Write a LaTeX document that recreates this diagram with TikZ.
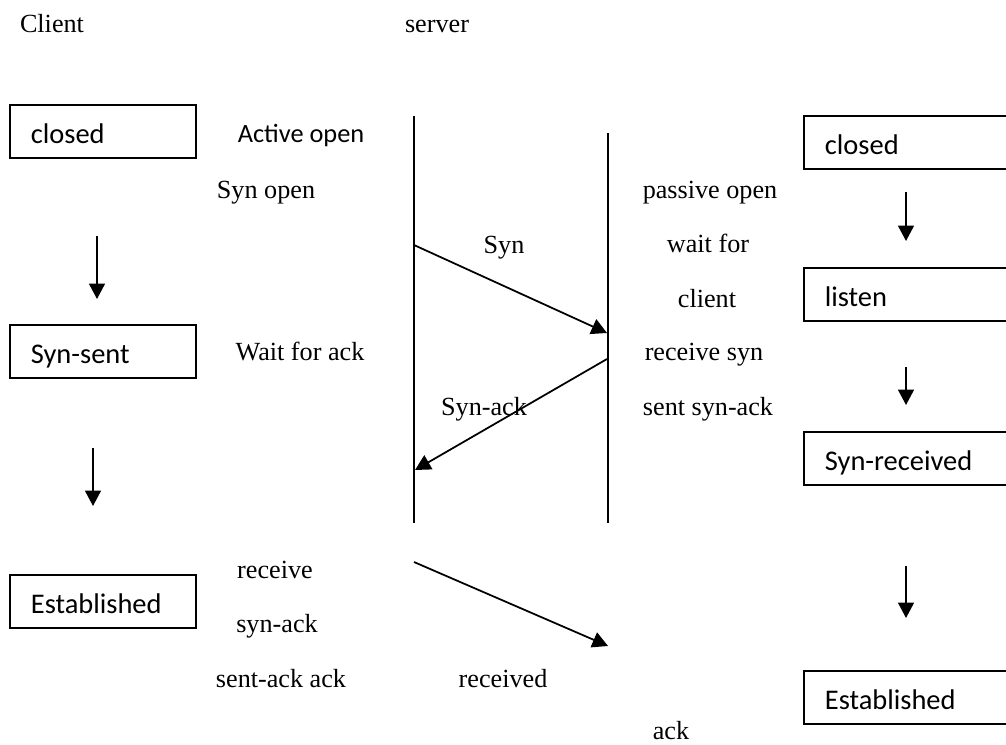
\documentclass[tikz,border=0pt]{standalone}
\usepackage{fontspec}
\setmainfont{Liberation Serif}
\setsansfont{Carlito}
\usetikzlibrary{arrows.meta}

\tikzset{
	state/.style={draw, line width=1pt, anchor=north west, align=left,
		font=\sffamily\fontsize{16.2}{19}\selectfont,
		inner xsep=0.42cm, text width=#1, text height=0.5cm, text depth=0.02cm,
		minimum height=1.06cm},
	txt/.style={anchor=base, inner sep=0pt, font=\fontsize{14.9}{18}\selectfont},
	flow/.style={-{Triangle[length=0.31cm, width=0.32cm]}, line width=1pt}
}

\begin{document}
\begin{tikzpicture}[x=0.02cm, y=-0.02cm]
		%page frame
		\useasboundingbox (0,0) rectangle (1006,744);
		\clip (0,0) rectangle (1006,744);
		
		%ends of the two lifelines
		\coordinate (client top) at (414,116);
		\coordinate (client bottom) at (414,523);
		\coordinate (server top) at (608,133);
		\coordinate (server bottom) at (608,523);
		
		%ends of the messages
		\coordinate (syn out) at (414,245);
		\coordinate (syn in) at (607,333);
		\coordinate (synack out) at (607,359);
		\coordinate (synack in) at (415,470);
		\coordinate (ack out) at (414,562);
		\coordinate (ack in) at (608,646);
		
		%ends of the state arrows
		\coordinate (c1 start) at (97,236);
		\coordinate (c1 end) at (97,299);
		\coordinate (c2 start) at (93,448);
		\coordinate (c2 end) at (93,506);
		\coordinate (s1 start) at (906,192);
		\coordinate (s1 end) at (906,241);
		\coordinate (s2 start) at (906,367);
		\coordinate (s2 end) at (906,405);
		\coordinate (s3 start) at (906,566);
		\coordinate (s3 end) at (906,618);
		
		%headings
		\node [txt] (client label) at (52,32) {Client};
		\node [txt] (server label) at (437,32) {server};
		
		%client states
		\node [state=2.88cm] (c closed) at (9,104) {closed};
		\node [state=2.88cm] (c synsent) at (9,324) {Syn-sent};
		\node [state=2.88cm] (c established) at (9,574) {Established};
		
		\draw [flow] (c1 start) -- (c1 end);
		\draw [flow] (c2 start) -- (c2 end);
		
		%server states
		\node [state=3.36cm] (s closed) at (803,115) {closed};
		\node [state=3.36cm] (s listen) at (803,267) {listen};
		\node [state=3.36cm] (s synreceived) at (803,431) {Syn-received};
		\node [state=3.36cm] (s established) at (803,670) {Established};
		
		\draw [flow] (s1 start) -- (s1 end);
		\draw [flow] (s2 start) -- (s2 end);
		\draw [flow] (s3 start) -- (s3 end);
		
		%lifelines
		\draw [line width=1pt] (client top) -- (client bottom);
		\draw [line width=1pt] (server top) -- (server bottom);
		
		%messages
		\draw [flow] (syn out) -- (syn in);
		\draw [flow] (synack out) -- (synack in);
		\draw [flow] (ack out) -- (ack in);
		
		%client side notes
		\node [txt, font=\sffamily\fontsize{15}{18}\selectfont] (active open) at (301,142) {Active open};
		\node [txt] (syn open) at (266,198) {Syn open};
		\node [txt] (wait ack) at (300,360) {Wait for ack};
		\node [txt] (receive) at (275,578) {receive};
		\node [txt] (rcv synack) at (277,632) {syn-ack};
		\node [txt] (sent ack) at (281,687) {sent-ack ack};
		
		%message labels
		\node [txt] (syn label) at (504,253) {Syn};
		\node [txt] (synack label) at (484,415) {Syn-ack};
		\node [txt] (received) at (503,687) {received};
		\node [txt] (ack label) at (671,739) {ack};
		
		%server side notes
		\node [txt] (passive open) at (710,198) {passive open};
		\node [txt] (wait for) at (708,252) {wait for};
		\node [txt] (wait client) at (707,307) {client};
		\node [txt] (receive syn) at (704,360) {receive syn};
		\node [txt] (sent synack) at (708,415) {sent syn-ack};
\end{tikzpicture}
\end{document}
